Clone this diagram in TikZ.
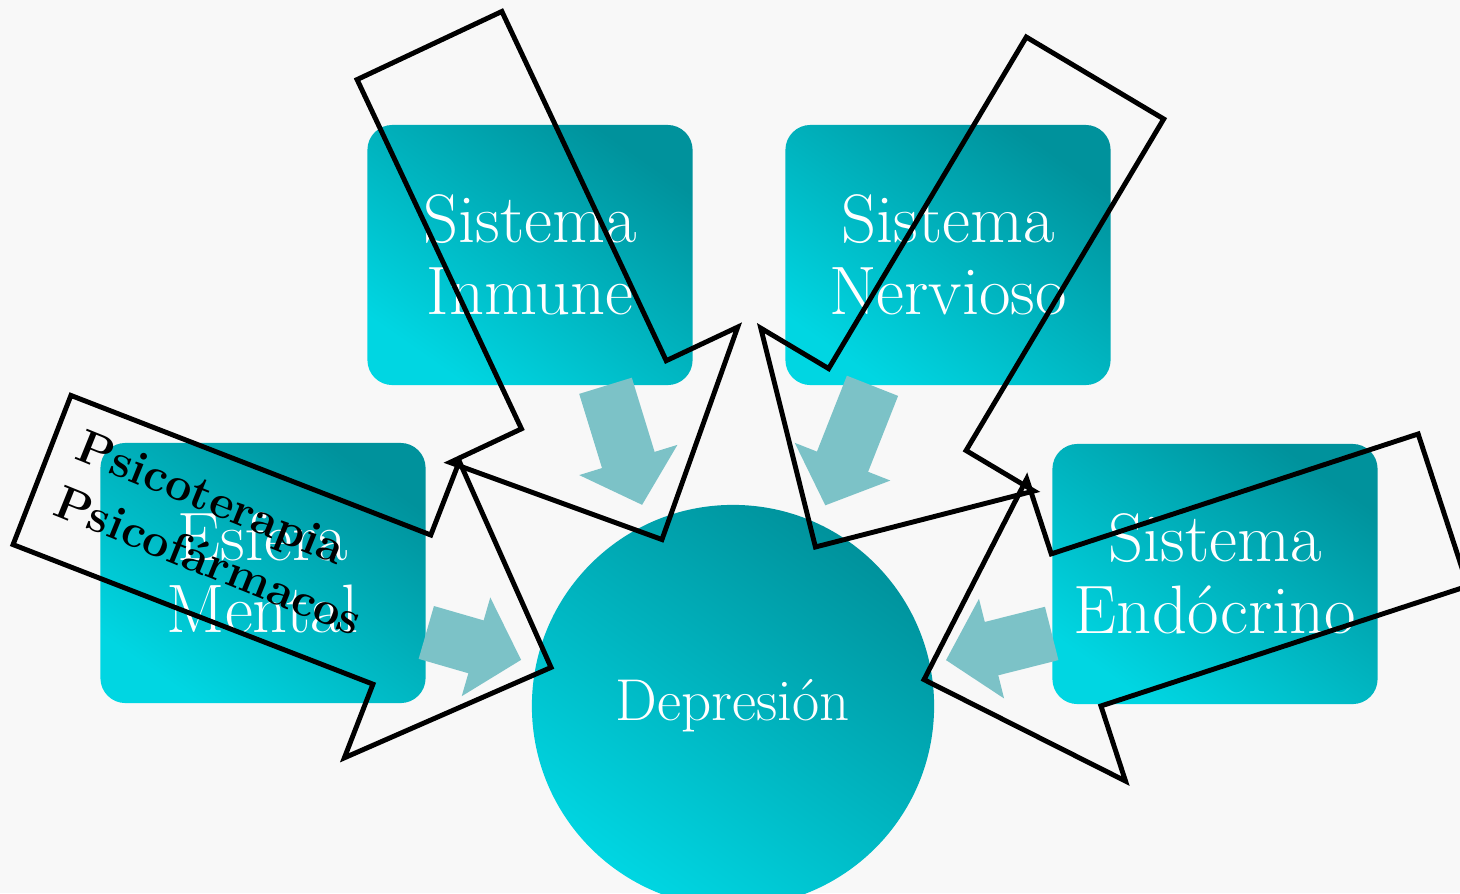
\documentclass[tikz,border=0pt]{standalone}
\usepackage{fontspec}
\usetikzlibrary{arrows.meta}
\definecolor{tealdark}{HTML}{00929C}
\definecolor{teallight}{HTML}{00D6E2}
\definecolor{linkteal}{HTML}{7CC2C7}
\definecolor{pagebg}{HTML}{F8F8F8}
\tikzset{
  sysbox/.style={rounded corners=0.25cm, minimum width=3.25cm, minimum height=2.6cm,
    top color=tealdark, bottom color=teallight, shading angle=-35,
    text=white, align=center, font=\fontsize{19.5}{20.5}\selectfont},
  link/.style={linkteal, line width=0.55cm, -{Triangle[length=0.47cm,width=1.0cm]}},
  callout/.style={draw=black, line width=1.4pt, line join=miter}
}
\newcommand{\calloutarrow}[3]{%
  \draw[callout, shift={(#1,#2)}, rotate=#3]
    (0,-80) -- (386,-80) -- (386,-159) -- (546,0) -- (386,159) -- (386,80) -- (0,80) -- cycle;}
\begin{document}
\begin{tikzpicture}[x=0.01cm,y=-0.01cm]
  \fill[pagebg] (0,0) rectangle (1460,893);
  \useasboundingbox (0,0) rectangle (1460,893);
  \node[sysbox] (inmune) at (530,255) {Sistema\\Inmune};
  \node[sysbox] (nervioso) at (948,255) {Sistema\\Nervioso};
  \node[sysbox] (mental) at (263,573) {Esfera\\Mental};
  \node[sysbox] (endocrino) at (1215,574) {Sistema\\Endócrino};
  \node[circle, minimum size=4.02cm, top color=tealdark, bottom color=teallight, shading angle=-35,
    text=white, font=\fontsize{16.8}{18}\selectfont] (dep) at (733,706) {Depresión};
  \draw[link, shorten >=0.19cm] (inmune.-60) -- (dep.115);
  \draw[link, shorten >=0.19cm] (nervioso.-120) -- (dep.65);
  \draw[link, shorten >=0.15cm] (mental.-20) -- (dep.168);
  \draw[link, shorten >=0.16cm] (endocrino.200) -- (dep.12);
  \calloutarrow{42}{470}{-21.2}
  \calloutarrow{429.5}{45.5}{-64.8}
  \calloutarrow{1095}{78}{-120.8}
  \calloutarrow{1443}{510}{198.1}
  \node[rotate=-22, align=left, font=\bfseries\fontsize{13.4}{17}\selectfont] (terapia) at (220,533) {Psicoterapia\\Psicofármacos};
\end{tikzpicture}
\end{document}
